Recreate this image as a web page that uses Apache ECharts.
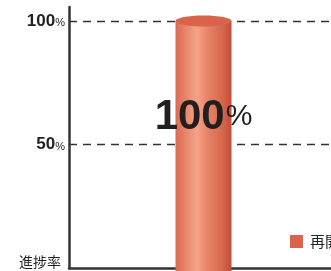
<!DOCTYPE html>
<html>
<head>
<meta charset="utf-8">
<script src="https://cdn.jsdelivr.net/npm/echarts@6/dist/echarts.min.js"></script>
<style>
  html, body { margin: 0; padding: 0; background: #fff; }
  #chart { width: 331px; height: 271px; }
</style>
</head>
<body>
<div id="chart"></div>
<script>
// data
const categories = ["再開"];
const values = [100];
const seriesName = "再開";
const tickValues = [0, 50, 100];

const dom = document.getElementById("chart");
const myChart = echarts.init(dom, null, { renderer: "canvas" });

// 円柱を描く
function renderCylinder(params, api) {
  const top = api.coord([api.value(0), api.value(1)]);
  const base = api.coord([api.value(0), 0]);
  const w = 56;
  const x = top[0] - w / 2;
  const ry = 5.5;
  const body = new echarts.graphic.LinearGradient(0, 0, 1, 0, [
    { offset: 0, color: "#dc6a50" },
    { offset: 0.38, color: "#f4a486" },
    { offset: 0.55, color: "#e9876b" },
    { offset: 0.85, color: "#d5654b" },
    { offset: 1, color: "#c24d35" },
  ]);
  return {
    type: "group",
    children: [
      {
        type: "rect",
        shape: { x: x, y: top[1], width: w, height: base[1] - top[1] + 6 },
        style: { fill: body },
      },
      {
        type: "ellipse",
        shape: { cx: top[0], cy: top[1], rx: w / 2, ry: ry },
        style: { fill: "#d9644b" },
      },
      {
        type: "text",
        z2: 10,
        style: {
          x: top[0],
          y: top[1] + 117,
          text: "{n|" + api.value(1) + "}{p|%}",
          align: "center",
          verticalAlign: "bottom",
          rich: {
            n: { fontSize: 42, fontWeight: "bold", fontFamily: "Liberation Sans", fill: "#231f20" },
            p: { fontSize: 30, fontFamily: "Liberation Sans", fill: "#231f20", padding: [0, 0, 1, 1] },
          },
        },
      },
    ],
  };
}

const option = {
  animation: false,
  grid: { left: 69, width: 269, top: 7, bottom: 3, outerBoundsMode: "none", containLabel: false },
  legend: {
    left: 290,
    top: 234,
    padding: 0,
    itemWidth: 13,
    itemHeight: 13,
    itemGap: 5,
    icon: "rect",
    data: [seriesName],
    textStyle: { fontSize: 15, color: "#222", fontFamily: "Noto Sans CJK JP", padding: [0, 0, 0, 2] },
  },
  xAxis: {
    type: "category",
    data: categories,
    axisLine: { lineStyle: { color: "#333", width: 2.5 } },
    axisTick: { show: false },
    axisLabel: { show: false },
    z: 1,
  },
  yAxis: {
    type: "value",
    min: 0,
    max: 105.7,
    interval: 50,
    axisLine: { show: true, lineStyle: { color: "#333", width: 2.5 } },
    axisTick: { show: false },
    splitLine: {
      show: true,
      showMinLine: false,
      showMaxLine: false,
      lineStyle: { color: "#333", width: 1.3, type: [8, 6] },
    },
    axisLabel: {
      showMaxLabel: false,
      margin: 4,
      formatter: function (v) {
        if (v === 0) return "{z|進捗率}";
        if (tickValues.indexOf(v) < 0) return "";
        return "{n|" + v + "}{p|%}";
      },
      rich: {
        n: { fontSize: 17, fontWeight: "bold", fontFamily: "Liberation Sans", color: "#231f20" },
        p: { fontSize: 11, fontFamily: "Liberation Sans", color: "#231f20", padding: [4, 0, 0, 0] },
        z: { fontSize: 14, fontFamily: "Noto Sans CJK JP", color: "#231f20", padding: [0, 4, 12, 0] },
      },
    },
  },
  series: [
    {
      name: seriesName,
      type: "custom",
      itemStyle: { color: "#d9644b" },
      renderItem: renderCylinder,
      encode: { x: 0, y: 1 },
      data: categories.map(function (c, i) { return [i, values[i]]; }),
      z: 5,
    },
  ],
};
myChart.setOption(option);
</script>
</body>
</html>
